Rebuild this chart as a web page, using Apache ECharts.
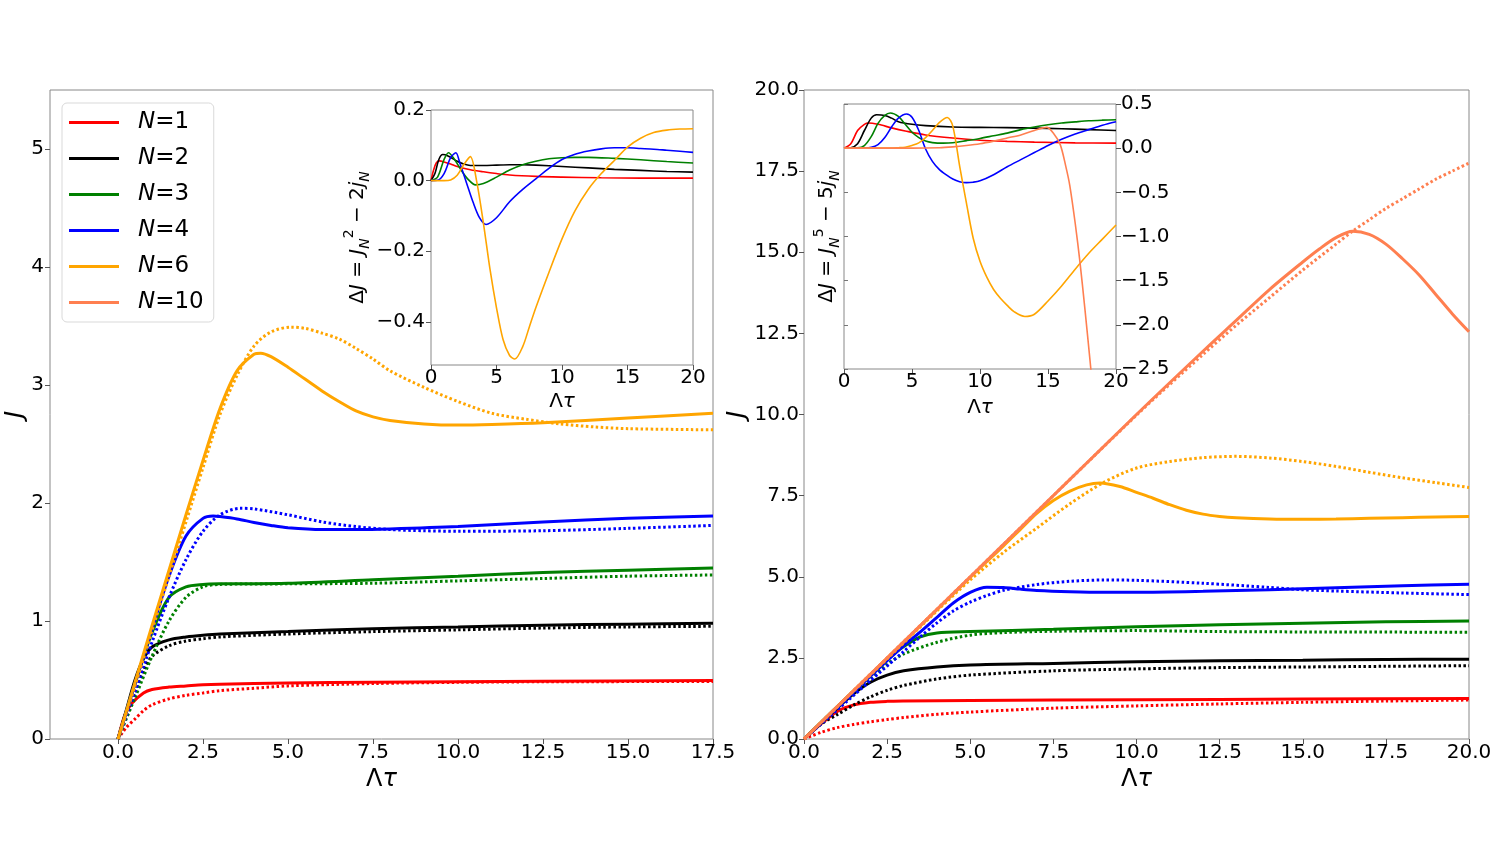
<!DOCTYPE html>
<html>
<head>
<meta charset="utf-8">
<script src="https://cdn.jsdelivr.net/npm/echarts@6.0.0/dist/echarts.min.js"></script>
<style>
  html, body { margin: 0; padding: 0; background: #fff; }
  #chart { width: 1500px; height: 844px; }
</style>
</head>
<body>
<div id="chart"></div>
<script>
// ---- data: [Λτ, J] pairs ----
// left panel, solid lines
const lsN1 = [[0,0],[0.2,0.2],[0.4,0.3],[0.75,0.39],[1,0.42],[1.5,0.44],[2,0.45],[2.5,0.46],[3,0.465],[5,0.475],[7.5,0.48],[10,0.485],[12.5,0.49],[17.5,0.495]];
const lsN2 = [[0,0],[0.25,0.25],[0.5,0.5],[0.75,0.68],[1,0.78],[1.5,0.84],[2,0.865],[2.5,0.88],[3,0.89],[5,0.91],[7.5,0.935],[10,0.95],[12.5,0.965],[15,0.973],[17.5,0.98]];
const lsN3 = [[0,0],[0.5,0.47],[1,0.9],[1.5,1.2],[2,1.29],[2.5,1.31],[3,1.315],[5,1.32],[7.5,1.35],[10,1.38],[12.5,1.41],[15,1.43],[17.5,1.45]];
const lsN4 = [[0,0],[0.5,0.47],[1,0.93],[1.5,1.38],[2,1.72],[2.5,1.87],[2.8,1.89],[3,1.885],[3.5,1.865],[4,1.835],[4.5,1.81],[5,1.79],[6,1.775],[7,1.775],[8,1.78],[10,1.8],[12.5,1.84],[15,1.87],[17.5,1.89]];
const lsN6 = [[0,0],[0.5,0.48],[1,0.96],[1.5,1.43],[2,1.9],[2.5,2.36],[3,2.8],[3.5,3.12],[4,3.26],[4.2,3.27],[4.5,3.24],[5,3.15],[5.5,3.05],[6,2.95],[6.5,2.86],[7,2.78],[7.5,2.73],[8,2.7],[9,2.67],[10,2.66],[11,2.665],[12.5,2.68],[15,2.72],[17.5,2.76]];
// left panel, dotted lines
const ldN1 = [[0,0],[0.25,0.1],[0.5,0.17],[0.75,0.24],[1,0.29],[1.5,0.34],[2,0.37],[2.5,0.39],[3,0.41],[4,0.43],[5,0.45],[7.5,0.47],[10,0.48],[12.5,0.485],[17.5,0.487]];
const ldN2 = [[0,0],[0.25,0.2],[0.5,0.4],[0.75,0.58],[1,0.7],[1.5,0.79],[2,0.83],[2.5,0.85],[3,0.865],[5,0.89],[7.5,0.91],[10,0.925],[12.5,0.94],[15,0.95],[17.5,0.955]];
const ldN3 = [[0,0],[0.5,0.35],[1,0.7],[1.5,1.0],[2,1.2],[2.5,1.29],[3,1.31],[5,1.315],[7.5,1.32],[10,1.34],[12.5,1.36],[15,1.38],[17.5,1.39]];
const ldN4 = [[0,0],[0.5,0.4],[1,0.82],[1.5,1.2],[2,1.52],[2.5,1.76],[3,1.9],[3.6,1.955],[4,1.95],[5,1.9],[6,1.84],[7,1.8],[8,1.775],[9,1.765],[10,1.76],[12.5,1.765],[15,1.785],[17.5,1.81]];
const ldN6 = [[0,0],[0.5,0.45],[1,0.92],[1.5,1.38],[2,1.84],[2.5,2.3],[3,2.75],[3.5,3.08],[4,3.33],[4.5,3.45],[5.1,3.49],[5.5,3.48],[6,3.44],[6.5,3.39],[7,3.31],[7.5,3.22],[8,3.12],[9,2.98],[10,2.86],[11,2.76],[12,2.71],[13,2.67],[14,2.645],[15,2.63],[17.5,2.62]];

// right panel, solid lines
const rsN1 = [[0,0],[0.5,0.45],[1,0.85],[1.5,1.05],[2,1.13],[2.5,1.16],[3,1.17],[5,1.19],[10,1.21],[15,1.23],[20,1.25]];
const rsN2 = [[0,0],[1,0.95],[1.5,1.4],[2,1.75],[2.5,1.97],[3,2.1],[4,2.22],[5,2.28],[7.5,2.33],[10,2.38],[12.5,2.41],[15,2.43],[17.5,2.45],[20,2.46]];
const rsN3 = [[0,0],[1,1],[2,1.97],[2.5,2.45],[3,2.85],[3.5,3.15],[4,3.27],[5,3.31],[7.5,3.38],[10,3.46],[12.5,3.52],[15,3.57],[17.5,3.61],[20,3.64]];
const rsN4 = [[0,0],[1,0.97],[2,1.94],[3,2.88],[3.5,3.3],[4,3.75],[4.5,4.2],[5,4.52],[5.5,4.68],[6,4.67],[6.5,4.62],[7,4.58],[8,4.54],[9,4.52],[10,4.52],[12,4.55],[14,4.6],[16,4.66],[18,4.72],[20,4.77]];
const rsN6 = [[0,0],[5,4.98],[6,5.95],[6.5,6.45],[7,6.95],[7.5,7.35],[8,7.64],[8.5,7.83],[8.9,7.89],[9.5,7.78],[10,7.6],[10.5,7.42],[11,7.22],[11.5,7.05],[12,6.93],[12.5,6.86],[13,6.82],[14,6.78],[15,6.77],[16,6.78],[17,6.8],[18,6.82],[19,6.84],[20,6.86]];
const rsN10 = [[0,0],[5,5],[10,10],[12,11.95],[13,12.9],[14,13.85],[15,14.7],[15.5,15.1],[16,15.45],[16.5,15.65],[17,15.55],[17.5,15.25],[18,14.8],[18.5,14.3],[19,13.7],[19.5,13.1],[20,12.55]];
// right panel, dotted lines
const rdN1 = [[0,0],[0.5,0.2],[1,0.35],[1.5,0.45],[2,0.53],[2.5,0.6],[3,0.66],[4,0.76],[5,0.83],[7.5,0.95],[10,1.02],[12.5,1.08],[15,1.13],[17.5,1.17],[20,1.2]];
const rdN2 = [[0,0],[0.5,0.45],[1,0.75],[1.5,1.05],[2,1.3],[2.5,1.5],[3,1.65],[4,1.85],[5,1.97],[7.5,2.1],[10,2.16],[12.5,2.2],[15,2.22],[17.5,2.24],[20,2.26]];
const rdN3 = [[0,0],[1,0.95],[2,1.85],[2.5,2.3],[3,2.62],[4,2.98],[5,3.2],[6,3.28],[7.5,3.32],[10,3.34],[12.5,3.31],[15,3.3],[20,3.29]];
const rdN4 = [[0,0],[1,0.9],[2,1.8],[3,2.7],[3.5,3.15],[4,3.58],[4.5,3.95],[5,4.22],[5.5,4.42],[6,4.58],[7,4.76],[8,4.86],[9,4.9],[10,4.89],[12,4.8],[14,4.67],[15,4.6],[16,4.56],[18,4.5],[20,4.45]];
const rdN6 = [[0,0],[4,3.95],[5,4.9],[6,5.75],[7,6.5],[8,7.25],[9,7.9],[10,8.35],[11,8.55],[12,8.67],[13,8.71],[14,8.66],[15,8.55],[16,8.4],[17,8.22],[18,8.05],[19,7.9],[20,7.75]];
const rdN10 = [[0,0],[5,5],[10,9.98],[12,11.85],[13,12.75],[14,13.6],[15,14.45],[16,15.25],[16.5,15.65],[17,16.0],[17.5,16.35],[18,16.65],[18.5,16.95],[19,17.25],[19.5,17.5],[20,17.75]];

// left inset: ΔJ = J_N^2 - 2 j_N
const ilN1 = [[0,0],[0.2,0.03],[0.4,0.05],[0.65,0.056],[1,0.053],[1.5,0.047],[2,0.04],[3,0.031],[4,0.025],[5,0.02],[6,0.016],[8,0.012],[10,0.01],[13,0.008],[16,0.007],[20,0.007]];
const ilN2 = [[0,0],[0.3,0.02],[0.6,0.06],[0.9,0.074],[1.3,0.07],[2,0.055],[2.5,0.047],[3,0.043],[4,0.043],[5,0.044],[6,0.045],[7,0.045],[8,0.044],[10,0.04],[12,0.036],[14,0.032],[16,0.029],[18,0.026],[20,0.024]];
const ilN3 = [[0,0],[0.5,0.01],[1,0.06],[1.33,0.079],[1.8,0.06],[2.3,0.03],[2.8,0.005],[3.4,-0.012],[4,-0.008],[5,0.01],[6,0.03],[7,0.045],[8,0.055],[9,0.062],[10,0.065],[11,0.066],[12,0.066],[14,0.063],[16,0.059],[18,0.054],[20,0.05]];
const ilN4 = [[0,0],[0.5,0.001],[1,0.02],[1.5,0.065],[1.9,0.079],[2.2,0.05],[2.7,-0.005],[3.2,-0.06],[3.7,-0.105],[4.2,-0.124],[5,-0.105],[6,-0.06],[7,-0.025],[8,0.005],[9,0.035],[10,0.06],[11,0.075],[12,0.084],[13,0.09],[14,0.093],[15,0.093],[16,0.091],[17,0.089],[18,0.086],[19,0.083],[20,0.08]];
const ilN6 = [[0,0],[1,0],[1.5,0.002],[2,0.015],[2.5,0.045],[3,0.068],[3.5,-0.005],[4,-0.12],[4.5,-0.25],[5,-0.36],[5.5,-0.45],[6,-0.495],[6.4,-0.505],[7,-0.47],[7.5,-0.415],[8,-0.36],[9,-0.26],[10,-0.165],[11,-0.085],[12,-0.025],[13,0.02],[14,0.057],[15,0.095],[16,0.12],[17,0.136],[18,0.143],[19,0.146],[20,0.147]];

// right inset: ΔJ = J_N^5 - 5 j_N
const irN1 = [[0,0],[0.5,0.05],[1,0.2],[1.5,0.27],[1.8,0.285],[2.5,0.27],[3.5,0.23],[4.5,0.195],[6,0.15],[8,0.115],[10,0.09],[12,0.077],[14,0.068],[17,0.06],[20,0.057]];
const irN2 = [[0,0],[0.5,0.005],[1,0.05],[1.5,0.2],[2,0.34],[2.4,0.378],[3,0.37],[3.5,0.34],[4,0.3],[5,0.27],[6,0.255],[8,0.24],[10,0.235],[12,0.232],[14,0.227],[16,0.22],[18,0.21],[20,0.2]];
const irN3 = [[0,0],[1,0.003],[1.5,0.03],[2,0.13],[2.5,0.28],[3,0.37],[3.4,0.398],[4,0.36],[4.5,0.27],[5,0.18],[5.5,0.12],[6,0.08],[6.5,0.063],[7.3,0.057],[8,0.062],[9,0.085],[10,0.11],[11,0.14],[12,0.17],[13,0.21],[14,0.24],[15,0.265],[16,0.285],[17,0.298],[18,0.31],[19,0.317],[20,0.322]];
const irN4 = [[0,0],[1,0],[2,0.01],[2.5,0.04],[3,0.12],[3.5,0.24],[4,0.34],[4.6,0.386],[5,0.35],[5.5,0.2],[6,-0.01],[6.5,-0.15],[7,-0.24],[7.5,-0.3],[8,-0.35],[8.5,-0.38],[9,-0.39],[9.5,-0.385],[10,-0.37],[11,-0.3],[12,-0.21],[13,-0.13],[14,-0.05],[15,0.03],[16,0.1],[17,0.16],[18,0.21],[19,0.26],[20,0.3]];
const irN6 = [[0,0],[3,0],[4,0.005],[4.5,0.01],[5,0.03],[5.5,0.06],[6,0.12],[6.5,0.2],[7,0.29],[7.6,0.348],[8,0.25],[8.5,-0.2],[9,-0.62],[9.5,-1.02],[10,-1.28],[10.5,-1.46],[11,-1.6],[11.5,-1.7],[12,-1.78],[12.5,-1.85],[13.3,-1.905],[14,-1.88],[15,-1.73],[16,-1.56],[17,-1.37],[18,-1.19],[19,-1.03],[20,-0.87]];
const irN10 = [[0,0],[5,0],[7,0.005],[8,0.015],[9,0.03],[10,0.05],[11,0.08],[12,0.115],[13,0.15],[14,0.2],[14.9,0.235],[15.4,0.17],[15.9,0.04],[16.3,-0.2],[16.6,-0.42],[17,-0.85],[17.35,-1.29],[17.7,-1.8],[18.1,-2.42],[18.3,-2.75]];

// tick labels
const leftXTicks = [0, 2.5, 5, 7.5, 10, 12.5, 15, 17.5];
const leftYTicks = [0, 1, 2, 3, 4, 5];
const insetLeftYTicks = [-0.4, -0.2, 0, 0.2];
const legendNames = ['N=1', 'N=2', 'N=3', 'N=4', 'N=6', 'N=10'];

const colors = { 'N=1': '#ff0000', 'N=2': '#000000', 'N=3': '#008000', 'N=4': '#0000ff', 'N=6': '#ffa500', 'N=10': '#ff7f50' };
const font = 'DejaVu Sans';
const minus = v => (v < 0 ? '\u2212' : '') + Math.abs(v).toFixed(1);

var myChart = echarts.init(document.getElementById('chart'));

// axis helpers
const lbl = { color: '#000', fontSize: 20, fontFamily: font };
const tick = { show: true, inside: false, length: 5, lineStyle: { color: '#555', width: 1 } };
const noLine = { show: false, onZero: false };
const nameStyle = {
  color: '#000', fontSize: 24, fontFamily: font,
  rich: {
    u: { fontSize: 24, fontFamily: font, color: '#000' },
    i: { fontSize: 24, fontFamily: font, fontStyle: 'italic', color: '#000' }
  }
};
const insetNameStyle = {
  color: '#000', fontSize: 20, fontFamily: font,
  rich: {
    u: { fontSize: 20, fontFamily: font, color: '#000', lineHeight: 30 },
    i: { fontSize: 20, fontFamily: font, fontStyle: 'italic', color: '#000', lineHeight: 30 },
    sub: { fontSize: 14, fontFamily: font, fontStyle: 'italic', color: '#000', verticalAlign: 'bottom', lineHeight: 30 },
    sup: { fontSize: 14, fontFamily: font, color: '#000', verticalAlign: 'top', lineHeight: 30 }
  }
};
const tauName = '{u|\u039b}{i|\u03c4}';

function line(name, data, idx, width, dotted) {
  return {
    type: 'line', name: name, data: data,
    xAxisIndex: idx, yAxisIndex: idx,
    symbol: 'none', smooth: 0.3,
    lineStyle: { color: colors[name.split(' ')[0]], width: width, type: dotted ? [2.5, 2.5] : 'solid' },
    itemStyle: { color: colors[name.split(' ')[0]] },
    silent: true
  };
}

var series = [];
[['N=1', lsN1, ldN1], ['N=2', lsN2, ldN2], ['N=3', lsN3, ldN3], ['N=4', lsN4, ldN4], ['N=6', lsN6, ldN6]].forEach(function (s) {
  series.push(line(s[0], s[1], 0, 3, false));
  series.push(line(s[0] + ' dots', s[2], 0, 3, true));
});
[['N=1', rsN1, rdN1], ['N=2', rsN2, rdN2], ['N=3', rsN3, rdN3], ['N=4', rsN4, rdN4], ['N=6', rsN6, rdN6], ['N=10', rsN10, rdN10]].forEach(function (s) {
  series.push(line(s[0], s[1], 1, 3, false));
  series.push(line(s[0] + ' dots', s[2], 1, 3, true));
});
[['N=1', ilN1], ['N=2', ilN2], ['N=3', ilN3], ['N=4', ilN4], ['N=6', ilN6]].forEach(function (s) {
  series.push(line(s[0], s[1], 2, 1.6, false));
});
[['N=1', irN1], ['N=2', irN2], ['N=3', irN3], ['N=4', irN4], ['N=6', irN6], ['N=10', irN10]].forEach(function (s) {
  series.push(line(s[0], s[1], 3, 1.6, false));
});

var option = {
  animation: false,
  backgroundColor: '#fff',
  grid: [
    { left: 50, top: 90, width: 663, height: 649, show: true, borderColor: '#888', borderWidth: 1, backgroundColor: 'transparent' },
    { left: 804, top: 90, width: 665, height: 649, show: true, borderColor: '#888', borderWidth: 1, backgroundColor: 'transparent' },
    { left: 431, top: 110, width: 262, height: 255, show: true, borderColor: '#888', borderWidth: 1, backgroundColor: '#fff' },
    { left: 844, top: 104, width: 272, height: 265, show: true, borderColor: '#888', borderWidth: 1, backgroundColor: '#fff' }
  ],
  legend: {
    data: legendNames,
    orient: 'vertical', left: 62, top: 103,
    padding: [8, 10, 8, 7],
    icon: 'rect', itemWidth: 50, itemHeight: 3, itemGap: 13,
    borderColor: '#d9d9d9', borderWidth: 1, borderRadius: 5, backgroundColor: '#fff',
    selectedMode: false,
    formatter: function (n) { return '{i|N}{u|=' + n.slice(2) + '}'; },
    textStyle: {
      padding: [0, 0, 0, 14],
      rich: {
        i: { fontSize: 23, fontFamily: font, fontStyle: 'italic', color: '#000' },
        u: { fontSize: 23, fontFamily: font, color: '#000' }
      }
    }
  },
  xAxis: [
    {
      gridIndex: 0, type: 'value', min: -2, max: 17.5,
      axisLine: noLine, splitLine: { show: false },
      axisTick: Object.assign({ customValues: leftXTicks }, tick),
      axisLabel: Object.assign({ customValues: leftXTicks, margin: 4, formatter: v => v.toFixed(1) }, lbl),
      name: tauName, nameLocation: 'middle', nameGap: 20, nameTextStyle: nameStyle
    },
    {
      gridIndex: 1, type: 'value', min: 0, max: 20, interval: 2.5,
      axisLine: noLine, splitLine: { show: false },
      axisTick: tick,
      axisLabel: Object.assign({ margin: 4, formatter: v => v.toFixed(1) }, lbl),
      name: tauName, nameLocation: 'middle', nameGap: 20, nameTextStyle: nameStyle
    },
    {
      gridIndex: 2, type: 'value', min: 0, max: 20, interval: 5,
      axisLine: noLine, splitLine: { show: false },
      axisTick: tick,
      axisLabel: Object.assign({ margin: 3 }, lbl),
      name: tauName, nameLocation: 'middle', nameGap: 22, nameTextStyle: insetNameStyle
    },
    {
      gridIndex: 3, type: 'value', min: 0, max: 20, interval: 5,
      axisLine: noLine, splitLine: { show: false },
      axisTick: tick,
      axisLabel: Object.assign({ margin: 3 }, lbl),
      name: tauName, nameLocation: 'middle', nameGap: 24, nameTextStyle: insetNameStyle
    }
  ],
  yAxis: [
    {
      gridIndex: 0, type: 'value', min: 0, max: 5.5,
      axisLine: noLine, splitLine: { show: false },
      axisTick: Object.assign({ customValues: leftYTicks }, tick),
      axisLabel: Object.assign({ customValues: leftYTicks, margin: 6 }, lbl),
      name: 'J', nameLocation: 'middle', nameGap: 20,
      nameTextStyle: Object.assign({}, nameStyle, { fontStyle: 'italic' })
    },
    {
      gridIndex: 1, type: 'value', min: 0, max: 20, interval: 2.5,
      axisLine: noLine, splitLine: { show: false },
      axisTick: tick,
      axisLabel: Object.assign({ margin: 5, formatter: v => v.toFixed(1) }, lbl),
      name: 'J', nameLocation: 'middle', nameGap: 54,
      nameTextStyle: Object.assign({}, nameStyle, { fontStyle: 'italic' })
    },
    {
      gridIndex: 2, type: 'value', min: -0.522, max: 0.2,
      axisLine: noLine, splitLine: { show: false },
      axisTick: Object.assign({ customValues: insetLeftYTicks }, tick),
      axisLabel: Object.assign({ customValues: insetLeftYTicks, margin: 6, formatter: minus }, lbl),
      name: '{u|\u0394}{i|J}{u| = }{i|J}{sub|N}{sup|2}{u| \u2212 2}{i|j}{sub|N}',
      nameLocation: 'middle', nameGap: 58, nameTextStyle: insetNameStyle
    },
    {
      gridIndex: 3, type: 'value', min: -2.5, max: 0.5, interval: 0.5, position: 'right',
      axisLine: noLine, splitLine: { show: false },
      axisTick: tick,
      axisLabel: Object.assign({ margin: 5, formatter: minus }, lbl)
    },
    {
      gridIndex: 3, type: 'value', min: -2.5, max: 0.5, interval: 0.5, position: 'left',
      axisLine: noLine, splitLine: { show: false },
      axisTick: { show: true, inside: true, length: 4, lineStyle: { color: '#777', width: 1 } },
      axisLabel: { show: false },
      name: '{u|\u0394}{i|J}{u| = }{i|J}{sub|N}{sup|5}{u| \u2212 5}{i|j}{sub|N}',
      nameLocation: 'middle', nameGap: 2, nameTextStyle: insetNameStyle
    }
  ],
  series: series
};
myChart.setOption(option);
</script>
</body>
</html>
